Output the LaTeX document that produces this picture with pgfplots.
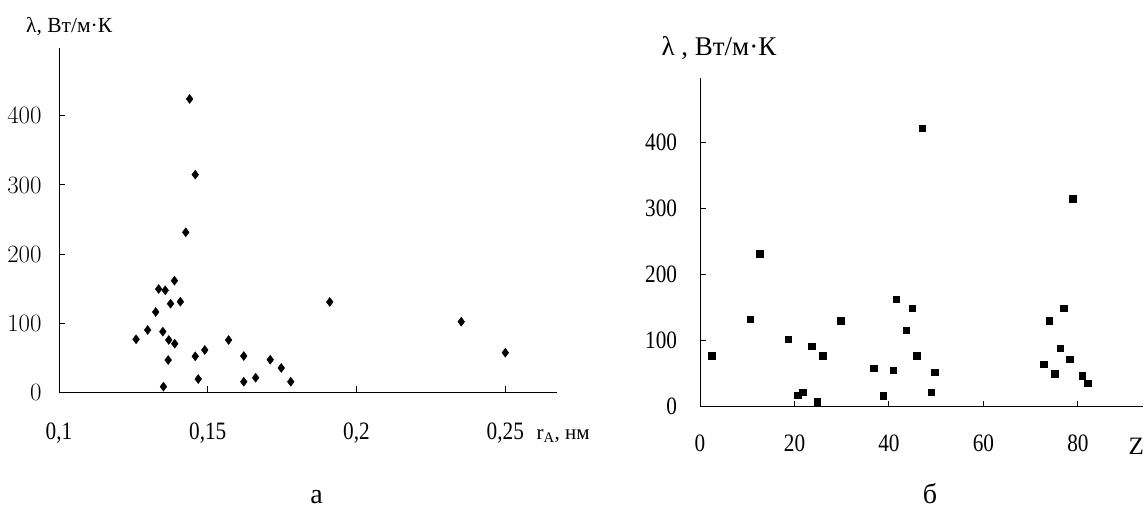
\documentclass[border=0pt]{standalone}
\usepackage{fontspec}
\setmainfont{Liberation Serif}
\newfontfamily\tickfont[FakeStretch=0.85]{Liberation Serif}
\usepackage{pgfplots}
\pgfplotsset{compat=1.18}

\pgfplotsset{
  scanplot/.style={
    scale only axis,
    anchor=south west,
    axis lines=left,
    axis line style={-, line width=1pt},
    tick align=inside,
    major tick length=6pt,
    tick style={black, line width=1pt},
    tick label style={font=\tickfont\fontsize{25}{28}\selectfont, inner sep=0pt},
    ymin=0,
    ytick={0,100,200,300,400},
    clip=false,
  }
}

\begin{document}
\begin{tikzpicture}
\useasboundingbox (0,0) rectangle (1147pt,507pt);

% (a) lambda vs r_A
\begin{axis}[scanplot,
    at={(59pt,114.7pt)},
    width=497.7pt, height=344pt,
    xmin=0.1, xmax=0.26728, ymax=497.8,
    xtick={0.1,0.15,0.2,0.25},
    xticklabels={{0,1},{0,15},{0,2},{0,25}},
    xticklabel style={anchor=base, yshift=-47.2pt},
    yticklabel style={anchor=east, xshift=-17.3pt},
    ylabel={\fontsize{21.5}{24}\selectfont λ, Вт/м·К},
    ylabel style={rotate=-90, anchor=west, at={(axis description cs:-0.0729,1.062)}},
    xlabel={\fontsize{21}{24}\selectfont r\textsubscript{A}, нм},
    xlabel style={anchor=base west, at={(axis description cs:0.9524,-0.1358)}},
]
\addplot[only marks, mark=diamond*, mark size=4.5pt, black] coordinates {
  (0.1439,424.5) (0.1458,315) (0.1426,231.5) (0.1259,76.7) (0.1298,90.2)
  (0.1325,116.2) (0.1335,149.5) (0.1357,147.6) (0.1388,161.5) (0.1375,128.2)
  (0.1408,131.1) (0.1349,87.7) (0.1369,75.7) (0.1389,70.3) (0.1367,46.7)
  (0.1351,8.1) (0.1458,52.1) (0.1490,61.2) (0.1468,19.2) (0.1570,75.7)
  (0.1621,52.5) (0.1621,15.3) (0.1661,21.1) (0.1710,47.2) (0.1747,35.2)
  (0.1779,15.3) (0.1910,130.7) (0.2352,102.2) (0.2500,57.3)
};
\end{axis}

% (b) lambda vs Z
\begin{axis}[scanplot,
    at={(700pt,100.3pt)},
    width=443.3pt, height=328.4pt,
    xmin=0, xmax=93.83, ymax=497.6,
    xtick={0,20,40,60,80},
    xticklabels={0,20,40,60,80},
    xticklabel style={anchor=base, yshift=-44.5pt},
    yticklabel style={anchor=east, xshift=-22.7pt},
    yticklabels={0,100,200,300,400},
    ylabel={\fontsize{27}{30}\selectfont λ , Вт/м·К},
    ylabel style={rotate=-90, anchor=west, at={(axis description cs:-0.0947,1.0923)}},
    xlabel={\fontsize{25}{28}\selectfont Z},
    xlabel style={anchor=base west, at={(axis description cs:0.9587,-0.1456)}},
]
\addplot[only marks, mark=square*, mark size=3.3pt, black] coordinates {
  (2.5,77.3) (10.6,132.4) (12.6,231.4) (18.7,102.1) (20.7,17.3)
  (21.7,21.8) (23.6,91.5) (24.8,7.6) (26.0,77.3) (29.8,130.3)
  (36.7,58.2) (38.8,16.7) (40.9,55.6) (41.5,163) (43.6,115.8)
  (44.9,149) (45.9,77.3) (47.0,421.8) (48.9,21.8) (49.7,52.1)
  (72.7,64.2) (73.9,130.3) (75.1,50) (76.2,88.5) (77.0,149)
  (78.2,71.8) (78.9,315.2) (80.9,47) (82.0,35.9)
};
\end{axis}

\node[anchor=base, font=\fontsize{28}{32}\selectfont] at (316.7pt,4pt) {а};
\node[anchor=base, font=\fontsize{28}{32}\selectfont] at (930pt,4pt) {б};
\end{tikzpicture}
\end{document}
